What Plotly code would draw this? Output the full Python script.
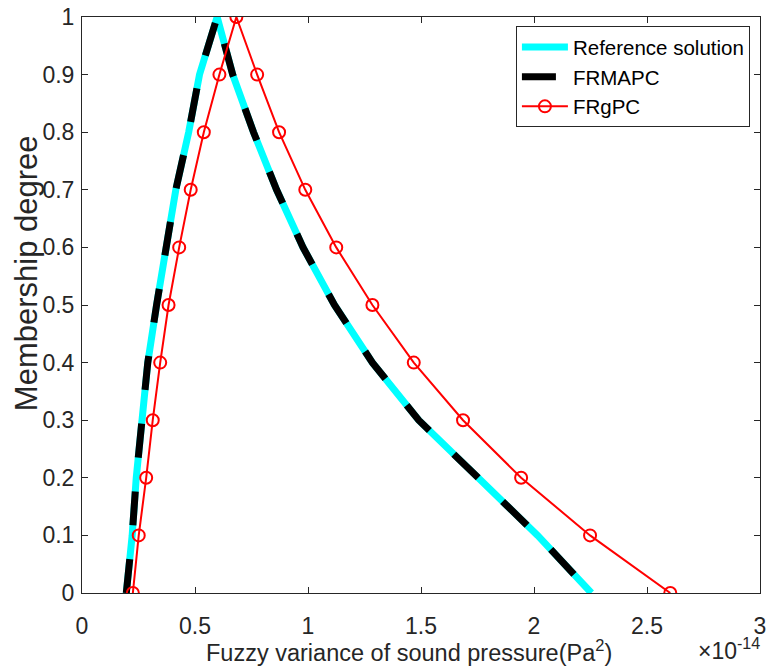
import plotly.graph_objects as go

# Membership degrees (alpha-cuts)
mu = [0.0, 0.1, 0.2, 0.3, 0.4, 0.5, 0.6, 0.7, 0.8, 0.9, 1.0]

# Fuzzy variance (x 1e-14 Pa^2): lower / upper bounds for each alpha-cut
ref_lower = [0.196, 0.222, 0.240, 0.262, 0.291, 0.330, 0.371, 0.415, 0.472, 0.520, 0.598]
ref_upper = [2.254, 2.016, 1.753, 1.490, 1.285, 1.117, 0.978, 0.861, 0.759, 0.667, 0.598]

frmapc_lower = [0.196, 0.222, 0.240, 0.262, 0.291, 0.330, 0.371, 0.415, 0.472, 0.520, 0.598]
frmapc_upper = [2.254, 2.016, 1.753, 1.490, 1.285, 1.117, 0.978, 0.861, 0.759, 0.667, 0.598]

frgpc_lower = [0.225, 0.251, 0.284, 0.313, 0.346, 0.383, 0.430, 0.481, 0.539, 0.608, 0.683]
frgpc_upper = [2.603, 2.248, 1.943, 1.686, 1.468, 1.285, 1.125, 0.988, 0.872, 0.775, 0.683]

x_ticks = [0, 0.5, 1, 1.5, 2, 2.5, 3]
x_ticktext = ["0", "0.5", "1", "1.5", "2", "2.5", "3"]
y_ticks = [0, 0.1, 0.2, 0.3, 0.4, 0.5, 0.6, 0.7, 0.8, 0.9, 1.0]
y_ticktext = ["0", "0.1", "0.2", "0.3", "0.4", "0.5", "0.6", "0.7", "0.8", "0.9", "1"]


def closed(lower, upper):
    xs = list(lower) + list(reversed(upper[:-1]))
    ys = list(mu) + list(reversed(mu[:-1]))
    return xs, ys


FONT = "Liberation Sans, Arial, Helvetica, sans-serif"
TXT = "#262626"

fig = go.Figure()

x, y = closed(ref_lower, ref_upper)
fig.add_trace(go.Scatter(x=x, y=y, mode="lines", name="Reference solution",
                         line=dict(color="#00FFFF", width=7)))
x, y = closed(frmapc_lower, frmapc_upper)
fig.add_trace(go.Scatter(x=x, y=y, mode="lines", name="FRMAPC",
                         line=dict(color="#000000", width=7, dash="34px,34px")))
x, y = closed(frgpc_lower, frgpc_upper)
fig.add_trace(go.Scatter(x=x, y=y, mode="lines+markers", name="FRgPC",
                         line=dict(color="#FF0000", width=2),
                         marker=dict(symbol="circle-open", size=12, color="#FF0000",
                                     line=dict(width=2, color="#FF0000"))))

axis_common = dict(showline=True, linecolor=TXT, linewidth=1, mirror="ticks",
                   ticks="inside", ticklen=6, tickcolor=TXT, tickwidth=1,
                   showgrid=False, zeroline=False, ticklabeloverflow="allow",
                   tickfont=dict(family=FONT, size=23, color=TXT))

fig.update_xaxes(range=[0, 3], tickvals=x_ticks, ticktext=x_ticktext,
                 ticklabelstandoff=12, **axis_common)
fig.update_yaxes(range=[0, 1], tickvals=y_ticks, ticktext=y_ticktext,
                 ticklabelstandoff=2, **axis_common)

# axis titles
fig.add_annotation(text="Fuzzy variance of sound pressure(Pa<sup>2</sup>)",
                   xref="paper", yref="paper", x=0.482, y=-0.100,
                   xanchor="center", yanchor="middle", showarrow=False,
                   font=dict(family=FONT, size=23.5, color=TXT))
fig.add_annotation(text="Membership degree", textangle=-90,
                   xref="paper", yref="paper", x=-0.082, y=0.556,
                   xanchor="center", yanchor="middle", showarrow=False,
                   font=dict(family=FONT, size=31, color=TXT))
fig.add_annotation(text="\u00d710<sup>-14</sup>", xref="paper", yref="paper",
                   x=1.003, y=-0.098, xanchor="right", yanchor="middle", showarrow=False,
                   font=dict(family=FONT, size=23, color=TXT))

fig.update_layout(
    width=770, height=672,
    margin=dict(l=82, r=4, t=14, b=79),
    paper_bgcolor="white", plot_bgcolor="white",
    showlegend=True,
    legend=dict(x=0.640, y=0.984, xanchor="left", yanchor="top",
                bgcolor="white", bordercolor=TXT, borderwidth=1,
                font=dict(family=FONT, size=20.5, color="#000000"),
                itemwidth=46, tracegroupgap=0),
)

fig.write_html("out.html")
